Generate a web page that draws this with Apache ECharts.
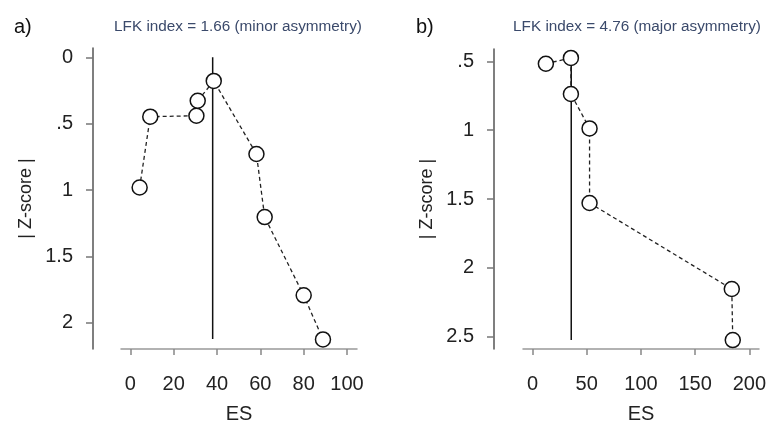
<!DOCTYPE html>
<html>
<head>
<meta charset="utf-8">
<script src="https://cdn.jsdelivr.net/npm/echarts@6/dist/echarts.min.js"></script>
<style>
  html, body { margin: 0; padding: 0; background: #fff; }
  #chart { width: 767px; height: 422px; }
</style>
</head>
<body>
<div id="chart"></div>
<script>
// panel a) — ES vs |Z-score|, in plotting order
const esA = [4.3, 9.2, 30.5, 31.1, 38.5, 58.2, 62.0, 80.0, 88.9]
const zA = [0.98, 0.447, 0.44, 0.327, 0.178, 0.728, 1.203, 1.792, 2.124]
const refA = [[38, 0], [38, 2.12]]

// panel b)
const esB = [12.3, 35.4, 35.4, 52.6, 52.6, 183.8, 184.7]
const zB = [0.517, 0.475, 0.737, 0.987, 1.529, 2.154, 2.525]
const refB = [[35.7, 0.475], [35.7, 2.525]]

const xTicksA = [0, 20, 40, 60, 80, 100]
const yTicksA = [0, 0.5, 1, 1.5, 2]
const xTicksB = [0, 50, 100, 150, 200]
const yTicksB = [0.5, 1, 1.5, 2, 2.5]

const titleA = 'LFK index = 1.66 (minor asymmetry)'
const titleB = 'LFK index = 4.76 (major asymmetry)'

const font = 'Liberation Sans, Arial, sans-serif'
const zfmt = v => {
  const s = String(+v.toFixed(2))
  return s.startsWith('0.') ? s.slice(1) : s
}

function xAxis(gridIndex, min, max, ticks) {
  return {
    gridIndex, type: 'value', min, max,
    name: 'ES', nameLocation: 'middle', nameGap: 55,
    nameTextStyle: { fontSize: 20, color: '#222', fontFamily: font },
    axisLine: { show: true, onZero: false, lineStyle: { color: '#999', width: 1.5 } },
    axisTick: { show: true, length: 6, customValues: ticks, lineStyle: { color: '#888', width: 1.5 } },
    axisLabel: { customValues: ticks, fontSize: 20, color: '#222', fontFamily: font, margin: 25 },
    splitLine: { show: false }
  }
}

function yAxis(gridIndex, min, max, ticks, offset) {
  return {
    gridIndex, type: 'value', min, max, inverse: true, offset,
    name: '| Z-score |', nameLocation: 'middle', nameGap: 58, nameRotate: 90,
    nameTextStyle: { fontSize: 18, color: '#222', fontFamily: font },
    axisLine: { show: true, onZero: false, lineStyle: { color: '#555', width: 1.5 } },
    axisTick: { show: true, length: 7, customValues: ticks, lineStyle: { color: '#777', width: 1.5 } },
    axisLabel: { customValues: ticks, formatter: zfmt, fontSize: 20, color: '#222', fontFamily: font, margin: 20 },
    splitLine: { show: false }
  }
}

function points(i, xs, zs) {
  return {
    type: 'line', xAxisIndex: i, yAxisIndex: i, z: 5,
    data: xs.map((x, k) => [x, zs[k]]),
    symbol: 'circle', symbolSize: 15,
    itemStyle: { color: '#fff', borderColor: '#111', borderWidth: 1.5 },
    lineStyle: { color: '#222', width: 1.3, type: [4, 3] },
    animation: false
  }
}

function refLine(i, data) {
  return {
    type: 'line', xAxisIndex: i, yAxisIndex: i, z: 3,
    data, symbol: 'none',
    lineStyle: { color: '#111', width: 1.5 },
    animation: false
  }
}

const chart = echarts.init(document.getElementById('chart'))
chart.setOption({
  backgroundColor: '#fff',
  animation: false,
  title: [
    { text: 'a)', left: 9, top: 12, textStyle: { fontSize: 20, fontWeight: 'normal', color: '#111', fontFamily: font } },
    { text: titleA, left: 233, textAlign: 'center', top: 14, textStyle: { fontSize: 15.3, fontWeight: 'normal', color: '#3b4a6b', fontFamily: font } },
    { text: 'b)', left: 411, top: 12, textStyle: { fontSize: 20, fontWeight: 'normal', color: '#111', fontFamily: font } },
    { text: titleB, left: 632, textAlign: 'center', top: 14, textStyle: { fontSize: 15.3, fontWeight: 'normal', color: '#3b4a6b', fontFamily: font } }
  ],
  grid: [
    { left: 121, right: 410, top: 48, bottom: 73, outerBoundsMode: 'none', containLabel: false },
    { left: 523, right: 8, top: 49, bottom: 73, outerBoundsMode: 'none', containLabel: false }
  ],
  xAxis: [
    xAxis(0, -4.3, 104.6, xTicksA),
    xAxis(1, -8.8, 208.9, xTicksB)
  ],
  yAxis: [
    yAxis(0, -0.07, 2.196, yTicksA, 28),
    yAxis(1, 0.41, 2.59, yTicksB, 29)
  ],
  series: [
    refLine(0, refA),
    points(0, esA, zA),
    refLine(1, refB),
    points(1, esB, zB)
  ]
})
</script>
</body>
</html>
